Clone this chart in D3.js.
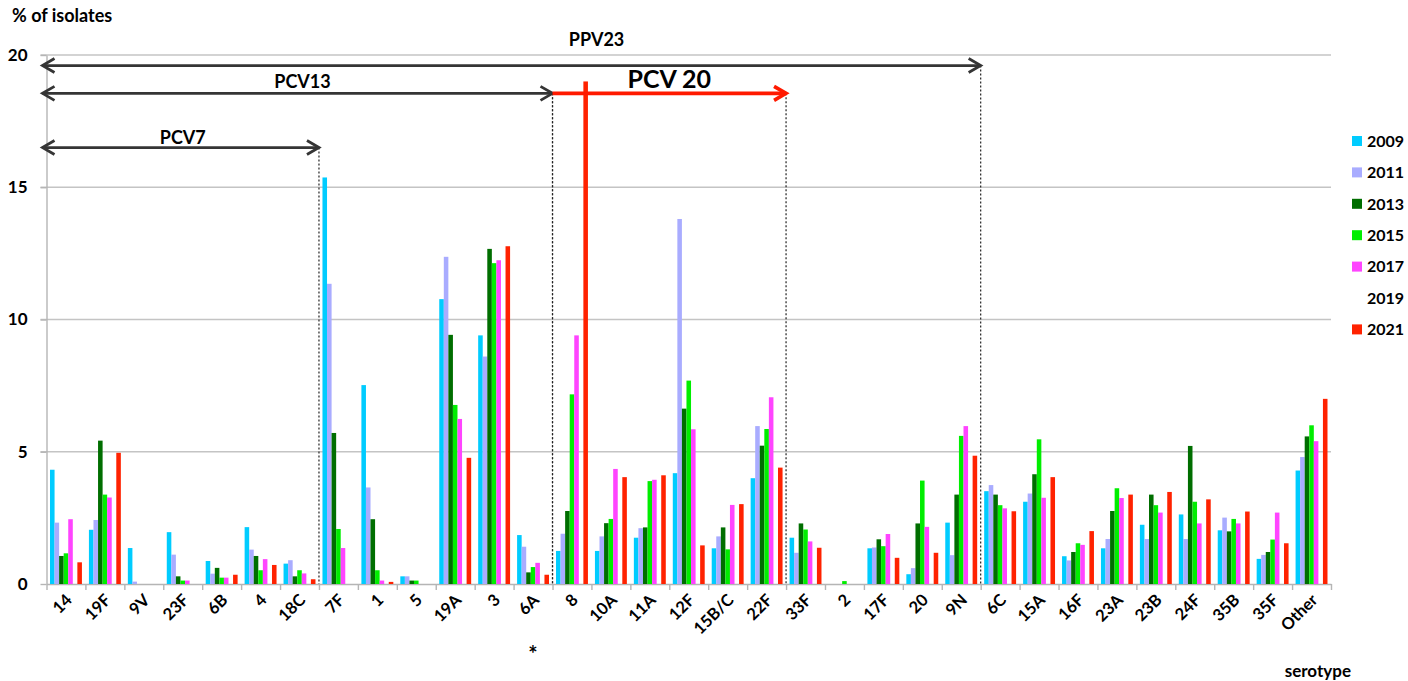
<!DOCTYPE html>
<html lang="en">
<head>
<meta charset="UTF-8">
<title>Serotype distribution by year</title>
<style>
    * { margin: 0; padding: 0; box-sizing: border-box; }
    body { background: #fff; font-family: Lato, 'Noto Sans', sans-serif; }
    svg text { font-weight: 700; fill: #000; }
    .grid line { stroke: #c4c4c4; stroke-width: 1.4; }
    .axis path, .axis line { stroke: #b5b5b5; stroke-width: 1.4; }
    .axis text { font-size: 16px; font-family: Lato, sans-serif; }
    .bracket { stroke: #353535; stroke-width: 2.8; fill: none; }
    .bracket.red { stroke: #ff1a00; stroke-width: 3.6; }
    .drop { stroke: #222; stroke-width: 1.2; stroke-dasharray: 2 2; }
</style>
</head>
<body>
<div id="chart"></div>

<script src="https://d3js.org/d3.v7.min.js"></script>
<script>
    const categories = ["14", "19F", "9V", "23F", "6B", "4", "18C", "7F", "1", "5", "19A", "3", "6A",
        "8", "10A", "11A", "12F", "15B/C", "22F", "33F", "2", "17F", "20", "9N",
        "6C", "15A", "16F", "23A", "23B", "24F", "35B", "35F", "Other"];
    const years = ["2009", "2011", "2013", "2015", "2017", "2019", "2021"];
    const colors = ["#00ccff", "#a9acff", "#006e00", "#00ee00", "#ff44ff", "#ffffff", "#ff2200"];

    // % of isolates per serotype, one list per year
    const y2009 = [4.32, 2.05, 1.36, 1.96, 0.87, 2.15, 0.77, 15.37, 7.52, 0.29, 10.77, 9.4, 1.85,
        1.25, 1.25, 1.75, 4.19, 1.35, 4.0, 1.75, 0, 1.35, 0.37, 2.32,
        3.51, 3.11, 1.05, 1.35, 2.24, 2.63, 2.03, 0.95, 4.29];
    const y2011 = [2.32, 2.42, 0.09, 1.11, 0.39, 1.3, 0.9, 11.35, 3.65, 0.29, 12.37, 8.6, 1.41,
        1.9, 1.8, 2.11, 13.8, 1.8, 5.97, 1.18, 0, 1.38, 0.6, 1.09,
        3.74, 3.42, 0.89, 1.7, 1.7, 1.7, 2.51, 1.1, 4.8];
    const y2013 = [1.06, 5.42, 0, 0.29, 0.61, 1.06, 0.29, 5.71, 2.45, 0.13, 9.42, 12.67, 0.44,
        2.76, 2.3, 2.14, 6.63, 2.14, 5.23, 2.29, 0, 1.69, 2.29, 3.38,
        3.38, 4.15, 1.21, 2.76, 3.38, 5.22, 1.99, 1.21, 5.58];
    const y2015 = [1.16, 3.38, 0, 0.13, 0.24, 0.52, 0.52, 2.08, 0.52, 0.13, 6.77, 12.13, 0.64,
        7.17, 2.46, 3.89, 7.69, 1.31, 5.86, 2.06, 0.11, 1.43, 3.91, 5.6,
        2.98, 5.47, 1.54, 3.62, 2.98, 3.11, 2.46, 1.68, 6.0];
    const y2017 = [2.45, 3.27, 0, 0.13, 0.24, 0.94, 0.4, 1.36, 0.13, 0, 6.24, 12.24, 0.8,
        9.4, 4.35, 3.94, 5.85, 2.99, 7.06, 1.61, 0, 1.89, 2.16, 5.97,
        2.86, 3.26, 1.48, 3.25, 2.7, 2.29, 2.29, 2.7, 5.4];
    const y2019 = [];   // listed in the legend, no bars drawn
    const y2021 = [0.82, 4.96, 0, 0, 0.35, 0.72, 0.18, 0, 0.08, 0, 4.77, 12.77, 0.35,
        19.0, 4.04, 4.11, 1.46, 3.02, 4.4, 1.37, 0, 0.99, 1.18, 4.85,
        2.75, 4.04, 2.0, 3.38, 3.48, 3.2, 2.74, 1.54, 7.0];
    const yTicks = [0, 5, 10, 15, 20];

    // vaccine coverage brackets: first and last serotype covered
    const vaccines = [
        { name: "PPV23", from: "14", to: "9N", level: 19.6 },
        { name: "PCV13", from: "14", to: "6A", level: 18.55 },
        { name: "PCV7",  from: "14", to: "18C", level: 16.5 },
        { name: "PCV 20", from: "8", to: "22F", level: 18.55 }
    ];

    const series = [y2009, y2011, y2013, y2015, y2017, y2019, y2021];

    const width = 1408, height = 681;
    const plot = { left: 46.5, right: 1331, top: 55, bottom: 584 };

    const svg = d3.select("#chart")
        .append("svg")
        .attr("width", width)
        .attr("height", height);

    const x0 = d3.scaleBand()
        .domain(categories)
        .range([plot.left, plot.right])
        .paddingInner(0.18)
        .paddingOuter(0.09);

    const x1 = d3.scaleBand()
        .domain(years)
        .range([0, x0.bandwidth()]);

    // category boundaries (tick marks between groups)
    const edge = d3.scaleLinear()
        .domain([0, categories.length])
        .range([plot.left, plot.right]);

    const y = d3.scaleLinear()
        .domain([0, 20])
        .range([plot.bottom, plot.top]);

    // gridlines
    svg.append("g")
        .attr("class", "grid")
        .selectAll("line")
        .data(yTicks.slice(1))
        .join("line")
        .attr("x1", plot.left - 6)
        .attr("x2", plot.right)
        .attr("y1", d => y(d))
        .attr("y2", d => y(d));

    // y axis
    const yAxis = svg.append("g")
        .attr("class", "axis")
        .attr("transform", `translate(${plot.left},0)`)
        .call(d3.axisLeft(y).tickValues(yTicks).tickSize(6).tickSizeOuter(0).tickPadding(13));
    yAxis.selectAll("text").style("font-size", "17px");

    // x axis, ticks at group boundaries
    svg.append("g")
        .attr("class", "axis")
        .attr("transform", `translate(0,${plot.bottom})`)
        .call(d3.axisBottom(edge).tickValues(d3.range(categories.length + 1)).tickFormat("").tickSize(6).tickSizeOuter(0));

    // bars
    const rows = [];
    categories.forEach((c, i) => {
        years.forEach((yr, j) => {
            const v = series[j][i];
            if (v != null && v > 0) rows.push({ cat: c, year: yr, value: v, color: colors[j] });
        });
    });

    svg.append("g")
        .selectAll("rect")
        .data(rows)
        .join("rect")
        .attr("x", d => x0(d.cat) + x1(d.year))
        .attr("y", d => y(d.value))
        .attr("width", x1.bandwidth())
        .attr("height", d => y(0) - y(d.value))
        .attr("fill", d => d.color);

    // x labels
    svg.append("g")
        .selectAll("text")
        .data(categories)
        .join("text")
        .attr("transform", d => `translate(${x0(d) + x0.bandwidth() / 2 + 3},${plot.bottom + 13}) rotate(-45)`)
        .attr("text-anchor", "end")
        .attr("dy", "0.35em")
        .style("font-size", "16.5px")
        .text(d => d);

    // vaccine brackets
    const arrowHead = (g, xTip, yv, dir) => {
        g.append("path")
            .attr("d", `M${xTip - dir * 12},${yv - 7} L${xTip},${yv} L${xTip - dir * 12},${yv + 7}`);
    };

    const labelShift = { "PPV23": [85, -20], "PCV13": [5, -5], "PCV7": [2, -4], "PCV 20": [0, -5] };

    vaccines.forEach(v => {
        const isRed = v.name === "PCV 20";
        const i0 = categories.indexOf(v.from);
        const i1 = categories.indexOf(v.to) + 1;
        const xa = i0 === 0 ? edge(0) - 4 : edge(i0);
        const xb = edge(i1);
        const yv = y(v.level);

        svg.append("line")
            .attr("class", "drop")
            .attr("x1", xb).attr("x2", xb)
            .attr("y1", yv).attr("y2", plot.bottom);
        if (isRed) {
            svg.append("line")
                .attr("class", "drop")
                .attr("x1", xa).attr("x2", xa)
                .attr("y1", yv).attr("y2", plot.bottom);
        }

        const g = svg.append("g").attr("class", isRed ? "bracket red" : "bracket");
        g.append("line").attr("x1", xa).attr("x2", xb).attr("y1", yv).attr("y2", yv);
        arrowHead(g, xb, yv, 1);
        if (!isRed) arrowHead(g, xa, yv, -1);

        const [dx, dy] = labelShift[v.name];
        svg.append("text")
            .attr("x", (xa + xb) / 2 + dx)
            .attr("y", yv + dy)
            .attr("text-anchor", "middle")
            .style("font-size", isRed ? "25px" : "18px")
            .text(v.name);
    });

    // legend
    const legend = svg.append("g")
        .attr("transform", "translate(1352,141)");
    years.forEach((yr, j) => {
        const row = legend.append("g").attr("transform", `translate(0,${j * 31.4})`);
        row.append("rect")
            .attr("x", 0).attr("y", -5)
            .attr("width", 10).attr("height", 10)
            .attr("fill", colors[j]);
        row.append("text")
            .attr("x", 15).attr("dy", "0.36em")
            .style("font-size", "16px")
            .text(yr);
    });

    // titles
    svg.append("text")
        .attr("x", 12).attr("y", 22)
        .style("font-size", "18px")
        .text("% of isolates");

    svg.append("text")
        .attr("x", 1351).attr("y", 677)
        .attr("text-anchor", "end")
        .style("font-size", "17px")
        .text("serotype");

    svg.append("text")
        .attr("x", x0("6A") + x0.bandwidth() / 2)
        .attr("y", 662)
        .attr("text-anchor", "middle")
        .style("font-size", "22px")
        .text("*");
</script>
</body>
</html>
